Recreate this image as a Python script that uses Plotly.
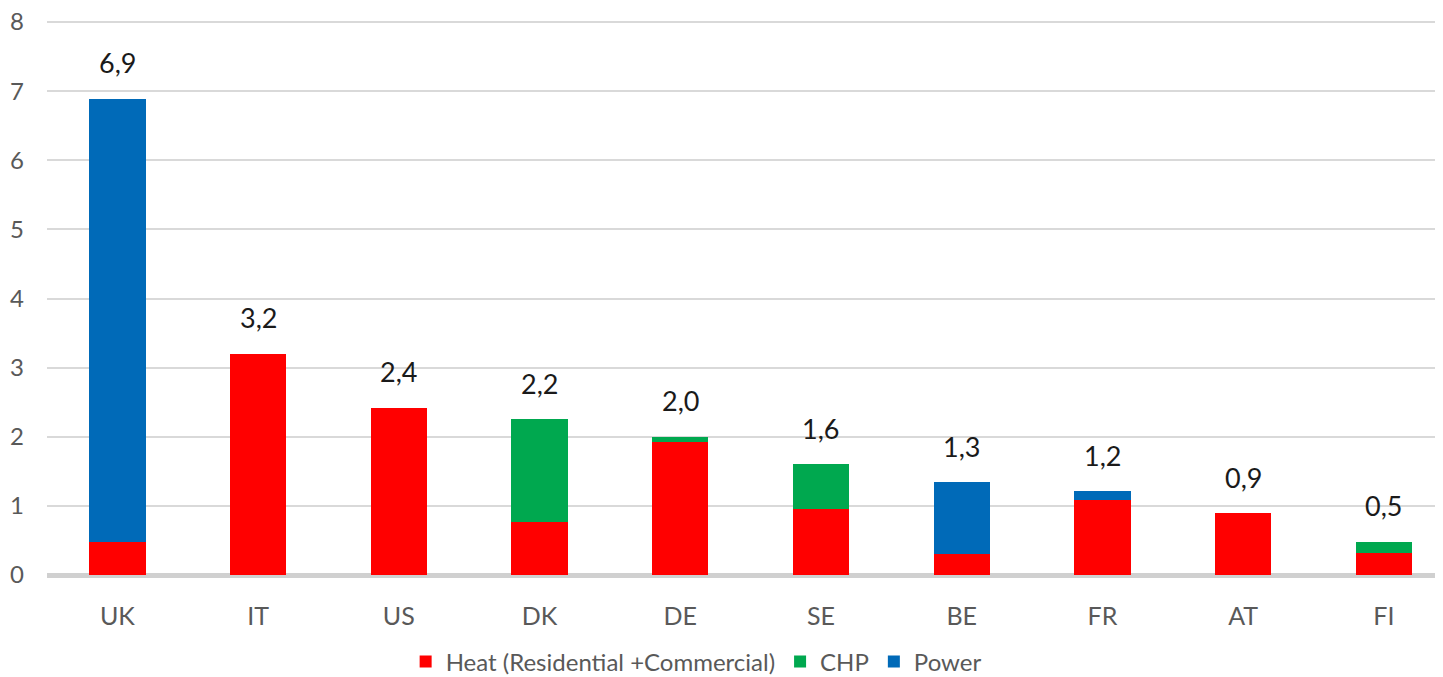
import plotly.graph_objects as go

# countries and stacked values
countries = ["UK", "IT", "US", "DK", "DE", "SE", "BE", "FR", "AT", "FI"]
heat = [0.48, 3.2, 2.42, 0.77, 1.92, 0.96, 0.31, 1.09, 0.89, 0.32]
chp = [0, 0, 0, 1.48, 0.08, 0.64, 0, 0, 0, 0.16]
power = [6.41, 0, 0, 0, 0, 0, 1.03, 0.12, 0, 0]
total_labels = ["6,9", "3,2", "2,4", "2,2", "2,0", "1,6", "1,3", "1,2", "0,9", "0,5"]
y_ticks = [0, 1, 2, 3, 4, 5, 6, 7, 8]

FONT = "Lato, Open Sans, Arial"
GREY = "#595959"

fig = go.Figure()
series = [
    ("Heat (Residential +Commercial)", heat, "#ff0000"),
    ("CHP", chp, "#00a84f"),
    ("Power", power, "#006ab8"),
]
for name, vals, col in series:
    fig.add_trace(go.Bar(x=countries, y=vals, name=name, marker_color=col,
                         marker_line_width=0, width=0.4))

totals = [h + c + p for h, c, p in zip(heat, chp, power)]
for c, t, lab in zip(countries, totals, total_labels):
    fig.add_annotation(x=c, y=t, text=lab, showarrow=False, yanchor="middle",
                       yshift=36, font=dict(family=FONT, size=27, color="#1a1a1a"))

fig.update_layout(
    barmode="stack",
    width=1443, height=677,
    margin=dict(l=39, r=8, t=12, b=110),
    paper_bgcolor="white", plot_bgcolor="white",
    font=dict(family=FONT, size=24, color=GREY),
    bargap=0.6,
    legend=dict(orientation="h", x=0.465, xanchor="center",
                yref="container", y=0.034, yanchor="middle",
                font=dict(size=24, color=GREY), traceorder="normal",
                itemwidth=30),
)
fig.update_xaxes(range=[-0.5, 9.42], showgrid=False, ticks="", showline=False,
                 automargin=False, ticklabelstandoff=24,
                 tickfont=dict(size=25, color=GREY))
# top of range a hair above 8 so the 8 gridline is drawn
fig.update_yaxes(range=[0, 8.03], tickvals=y_ticks, showgrid=True, gridcolor="#d9d9d9",
                 gridwidth=2, zeroline=True, zerolinecolor="#d0d0d0", zerolinewidth=5,
                 automargin=False, ticks="", ticklabelstandoff=22,
                 ticklabeloverflow="allow",
                 tickfont=dict(size=24, color=GREY))

fig.write_html("out.html")
